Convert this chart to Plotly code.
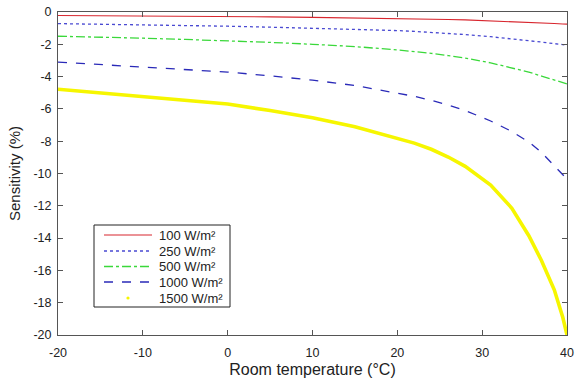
import plotly.graph_objects as go

# Room temperature (°C)
temp = [-20, -15, -10, -5, 0, 5, 10, 15, 20, 22, 24, 26, 28, 31, 33.5, 35.5, 37, 38.5, 39.5, 40]

# Sensitivity (%) for each irradiance level
s100 = [-0.22, -0.23, -0.25, -0.26, -0.28, -0.30, -0.33, -0.36, -0.40, -0.42, -0.44, -0.465, -0.49, -0.54, -0.59, -0.63, -0.67, -0.71, -0.74, -0.75]
s250 = [-0.72, -0.75, -0.78, -0.83, -0.88, -0.94, -1.00, -1.07, -1.15, -1.20, -1.26, -1.33, -1.40, -1.53, -1.65, -1.77, -1.86, -1.96, -2.02, -2.05]
s500 = [-1.50, -1.55, -1.62, -1.70, -1.78, -1.88, -2.00, -2.14, -2.35, -2.45, -2.56, -2.70, -2.85, -3.15, -3.45, -3.72, -3.97, -4.22, -4.38, -4.45]
s1000 = [-3.10, -3.25, -3.40, -3.55, -3.72, -3.95, -4.22, -4.55, -5.00, -5.22, -5.47, -5.76, -6.10, -6.75, -7.40, -8.05, -8.70, -9.55, -10.1, -10.35]
s1500 = [-4.78, -5.00, -5.25, -5.45, -5.70, -6.10, -6.55, -7.10, -7.80, -8.12, -8.50, -8.98, -9.56, -10.72, -12.15, -13.85, -15.40, -17.20, -18.90, -20.0]

labels = ["100 W/m²", "250 W/m²", "500 W/m²", "1000 W/m²", "1500 W/m²"]

x_ticks = [-20, -10, 0, 10, 20, 30, 40]
x_ticktext = ["-20", "-10", "0", "10", "20", "30", "40"]
y_ticks = [0, -2, -4, -6, -8, -10, -12, -14, -16, -18, -20]
y_ticktext = ["0", "-2", "-4", "-6", "-8", "-10", "-12", "-14", "-16", "-18", "-20"]

FONT = "Liberation Sans, Arial, Helvetica, sans-serif"
TXT = "#222222"

styles = [
    dict(color="#d8262e", width=1.1, dash="solid"),
    dict(color="#4a4ad2", width=1.3, dash="dot"),
    dict(color="#3ad83a", width=1.3, dash="dashdot"),
    dict(color="#2a2ab8", width=1.3, dash="dash"),
    dict(color="#f6f600", width=3.6, dash="solid"),
]

fig = go.Figure()
for name, ys, st in zip(labels, [s100, s250, s500, s1000, s1500], styles):
    fig.add_trace(go.Scatter(x=temp, y=ys, mode="lines", name=name, showlegend=False,
                             line=dict(shape="linear", **st)))

axis_common = dict(
    showgrid=False, zeroline=False, showline=True, linecolor="#555555", linewidth=1,
    mirror="ticks", ticks="inside", ticklen=5, tickcolor="#555555", automargin=False,
    tickfont=dict(family=FONT, size=12.5, color=TXT),
)

fig.update_xaxes(range=[-20, 40], tickvals=x_ticks, ticktext=x_ticktext, ticklabelstandoff=6,
                 title=dict(text="Room temperature (°C)", standoff=4,
                            font=dict(family=FONT, size=16, color=TXT)),
                 **axis_common)
fig.update_yaxes(range=[-20, 0], tickvals=y_ticks, ticktext=y_ticktext, ticklabelstandoff=3,
                 title=dict(text="Sensitivity (%)", standoff=9,
                            font=dict(family=FONT, size=15, color=TXT)),
                 **axis_common)

# plot-area geometry (pixels) used to place the legend box
W, H = 577, 383
ML, MR, MT, MB = 58, 10, 12, 48
PW, PH = W - ML - MR, H - MT - MB


def px(xp):
    return (xp - ML) / PW


def py(yp):
    return (H - MB - yp) / PH


# legend box with line samples and labels
box_l, box_r, box_t, box_b = 94, 230, 225, 307
row_y = [235, 251, 266.5, 282, 298]
samp_l, samp_r, text_l = 104, 152, 157

shapes = [dict(type="rect", xref="paper", yref="paper",
               x0=px(box_l), x1=px(box_r), y0=py(box_b), y1=py(box_t),
               line=dict(color=TXT, width=1), fillcolor="white", layer="above")]
annotations = []
for i, (name, st) in enumerate(zip(labels, styles)):
    yy = py(row_y[i])
    if i < 4:
        shapes.append(dict(type="line", xref="paper", yref="paper",
                           x0=px(samp_l), x1=px(samp_r), y0=yy, y1=yy, layer="above",
                           line=dict(color=st["color"], width=st["width"], dash=st["dash"])))
    else:
        cx = (samp_l + samp_r) / 2
        shapes.append(dict(type="circle", xref="paper", yref="paper",
                           x0=px(cx - 1.6), x1=px(cx + 1.6), y0=py(row_y[i] + 1.6), y1=py(row_y[i] - 1.6),
                           layer="above", fillcolor=st["color"], line=dict(width=0)))
    annotations.append(dict(x=px(text_l), y=yy, xref="paper", yref="paper", text=name,
                            showarrow=False, xanchor="left", yanchor="middle",
                            font=dict(family=FONT, size=13, color=TXT)))

fig.update_layout(
    width=W, height=H,
    margin=dict(l=ML, r=MR, t=MT, b=MB),
    paper_bgcolor="white", plot_bgcolor="white",
    shapes=shapes, annotations=annotations,
)

fig.write_html("out.html")
